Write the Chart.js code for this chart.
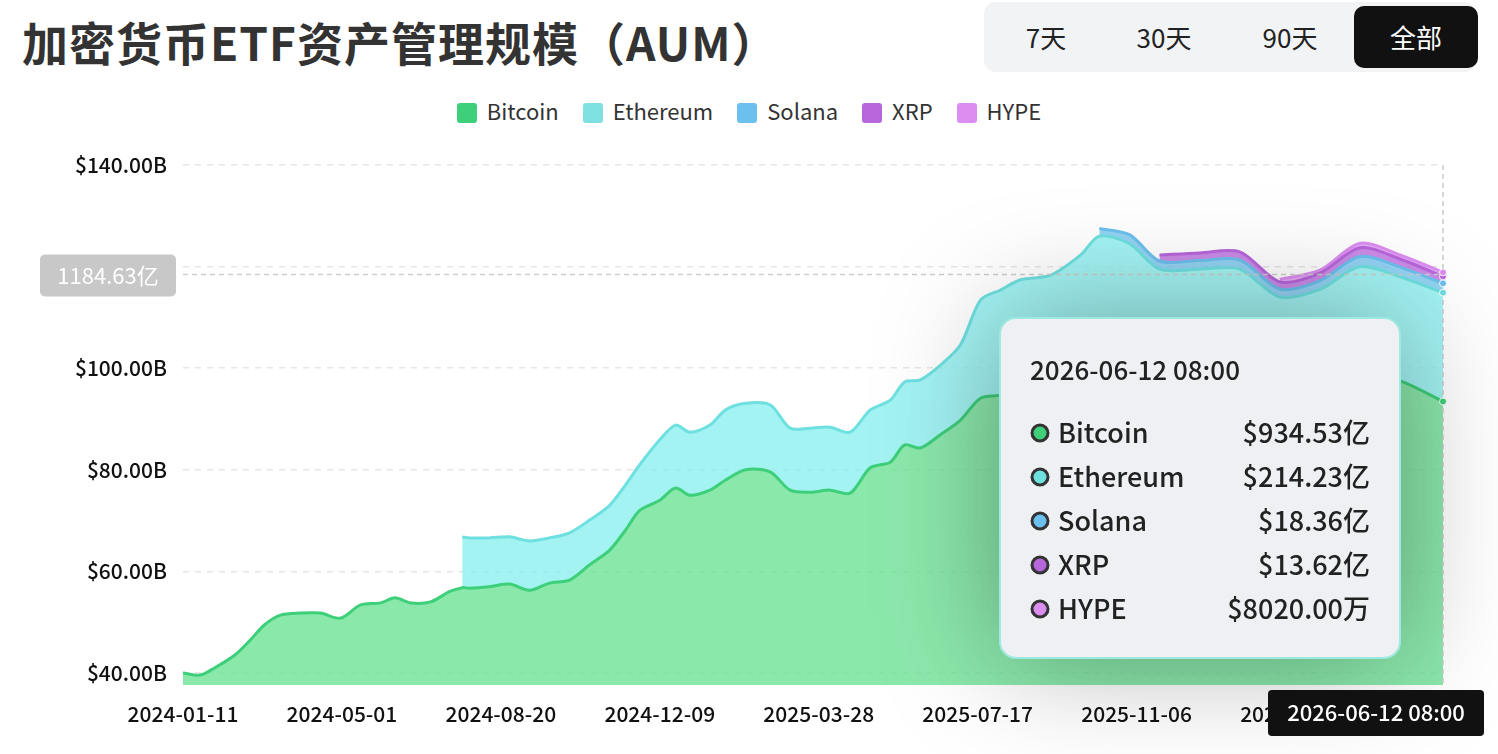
<!DOCTYPE html>
<html><head><meta charset="utf-8">
<script src="https://cdn.jsdelivr.net/npm/chart.js@4/dist/chart.umd.min.js"></script>
<style>
body{margin:0;width:1498px;height:754px;overflow:hidden;background:#fff;font-family:"Noto Sans CJK SC","Noto Sans",sans-serif;}
#title{position:absolute;left:22px;top:8px;font-size:46px;font-weight:700;color:#333;letter-spacing:1px;}
#btns{position:absolute;left:984px;top:2px;width:492px;height:70px;background:#f2f3f5;border-radius:12px;}
#btns div{position:absolute;top:4px;height:62px;line-height:62px;font-size:26px;color:#222;text-align:center;width:124px;}
#legend{position:absolute;top:94px;left:0;width:1498px;text-align:center;font-size:22px;color:#333;}
#legend span{margin:0 12px;}
#legend i{display:inline-block;width:20px;height:20px;vertical-align:-3px;margin-right:10px;border-radius:3px;}
</style></head><body>
<div id="title">加密货币ETF资产管理规模（AUM）</div>
<div id="btns"><div style="left:0">7天</div><div style="left:118px">30天</div><div style="left:244px">90天</div><div style="left:370px;background:#111;color:#fff;border-radius:10px;">全部</div></div>
<div id="legend"></div>
<canvas id="c" width="1498" height="754" style="position:absolute;left:0;top:0"></canvas>
<script>
const days = [0,12,22,36,47,57,68,82,96,110,124,138,148,159,173,186,195,200,214,228,242,256,270,284,298,309,319,333,344,354,368,379,393,410,424,438,452,466,480,494,504,515,529,543,557,571,585,606,627,640,661,682,710,738,766,794,822,850,880];
const btc = [40,39.6,41,43.5,46.5,49.5,51.4,51.8,51.8,50.8,53.4,53.8,54.8,53.8,54,56,56.8,56.7,57,57.5,56.3,57.7,58.3,61.3,64.2,68.1,72,74,76.4,75,76,78,80,79.6,76,75.6,76,75.4,80.4,81.5,84.9,84.3,86.9,89.8,94.1,94.7,96,100,104,105,103,100,100,99,95,96,99,97.5,93.45];
const eth = [null,null,null,null,null,null,null,null,null,null,null,null,null,null,null,null,10,9.9,9.6,9.3,9.7,8.9,9.3,8.8,8.8,8.9,9,11.9,12.4,12.4,12.8,13.8,13.1,13.2,12.2,12.6,12.4,12,11.4,12.2,12.4,13.4,13.7,14.8,19.3,20.7,21.4,18.3,18.3,21,21.5,19.5,19.5,20.5,19,19.5,21,20.5,21.42];
const sol = days.map(()=>null); const solV={640:1.5,661:1.8,682:1.6,710:1.7,738:1.8,766:1.6,794:1.7,822:2.0,850:1.9,880:1.84};
const xrp = days.map(()=>null); const xrpV={682:1.2,710:1.5,738:1.6,766:1.4,794:1.5,822:1.7,850:1.6,880:1.36};
const hype = days.map(()=>null); const hypeV={766:0.5,794:0.6,822:0.9,850:0.8,880:0.8};
days.forEach((d,i)=>{if(d in solV)sol[i]=solV[d];if(d in xrpV)xrp[i]=xrpV[d];if(d in hypeV)hype[i]=hypeV[d];});
const yTicks=[40,60,80,100,120,140];
const xTicks=[0,111,222,333,444,555,666,777];
const xLabels=['2024-01-11','2024-05-01','2024-08-20','2024-12-09','2025-03-28','2025-07-17','2025-11-06','2026-02-25'];
const names=['Bitcoin','Ethereum','Solana','XRP','HYPE'];
const lineC=['#3ecf7a','#6fe0e0','#6cc0ee','#b866dc','#dc8ef0'];
const fillC=['rgba(110,226,150,0.8)','rgba(140,240,240,0.8)','rgba(120,200,240,0.8)','rgba(190,110,225,0.8)','rgba(225,150,245,0.8)'];
const tipVals=['$934.53亿','$214.23亿','$18.36亿','$13.62亿','$8020.00万'];
const hoverLabel='1184.63亿';
const hoverText='2026-06-12 08:00';
document.getElementById('legend').innerHTML=names.map((n,i)=>`<span><i style="background:${['#3ecf7a','#7ee0e0','#6cc0ee','#b866dc','#dc8ef0'][i]}"></i>${n}</span>`).join('');
const series=[btc,eth,sol,xrp,hype];
const datasets=series.map((s,i)=>({label:names[i],data:days.map((d,j)=>({x:d,y:s[j]})),borderColor:lineC[i],backgroundColor:fillC[i],fill:i===0?'origin':'-1',borderWidth:3,pointRadius:0,tension:0.3,spanGaps:false}));
const overlay={id:'ov',afterDatasetsDraw(ch){
 const c=ch.ctx,xs=ch.scales.x,ys=ch.scales.y,a=ch.chartArea;
 const lx=xs.getPixelForValue(880);
 const hy=ys.getPixelForValue(118.46);
 c.save();c.setLineDash([5,4]);c.strokeStyle='#ccc';c.lineWidth=1.5;
 c.beginPath();c.moveTo(a.left,hy);c.lineTo(lx,hy);c.moveTo(lx,a.top);c.lineTo(lx,a.bottom);c.stroke();c.setLineDash([]);
 c.fillStyle='#c8c8c8';c.beginPath();c.roundRect(40,hy-20,136,42,5);c.fill();
 c.fillStyle='#fff';c.font='22px "Noto Sans CJK SC"';c.textAlign='center';c.textBaseline='middle';c.fillText(hoverLabel,108,hy+1);
 let acc=0;series.forEach((s,i)=>{acc+=s[s.length-1];c.beginPath();c.arc(lx,ys.getPixelForValue(acc),3.5,0,7);c.fillStyle=lineC[i];c.fill();c.strokeStyle='#fff';c.lineWidth=1;c.stroke();});
 c.shadowColor='rgba(0,0,0,0.35)';c.shadowBlur=120;c.fillStyle='#eef0f3';c.beginPath();c.roundRect(1000,318,400,340,16);c.fill();
 c.shadowBlur=0;c.strokeStyle='#9ee8e0';c.lineWidth=2;c.stroke();
 c.fillStyle='#222';c.textAlign='left';c.font='500 26px "Noto Sans CJK SC"';c.fillText(hoverText,1030,370);
 names.forEach((n,i)=>{const y=433+i*44;c.beginPath();c.arc(1040,y,8,0,7);c.fillStyle=lineC[i];c.fill();c.strokeStyle='#333';c.lineWidth=3;c.stroke();
  c.fillStyle='#222';c.textAlign='left';c.font='500 27px "Noto Sans CJK SC"';c.fillText(n,1058,y);c.textAlign='right';c.fillText(tipVals[i],1370,y);});
 c.fillStyle='#111';c.beginPath();c.roundRect(1268,690,216,46,4);c.fill();c.fillStyle='#fff';c.textAlign='center';c.font='500 22px "Noto Sans CJK SC"';c.fillText(hoverText,1376,713);
 c.restore();}};
new Chart(document.getElementById('c'),{type:'line',data:{datasets},plugins:[overlay],
options:{responsive:false,animation:false,layout:{padding:{top:165,right:55,left:0,bottom:0}},
plugins:{legend:{display:false},tooltip:{enabled:false}},
scales:{x:{type:'linear',min:0,max:880,grid:{display:false},border:{display:false},
 afterBuildTicks:s=>{s.ticks=xTicks.map(v=>({value:v}));},afterFit:s=>{s.height=69;},
 ticks:{callback:(v)=>xLabels[xTicks.indexOf(v)],color:'#111',font:{size:21,weight:'500',family:'Noto Sans CJK SC'},maxRotation:0,padding:8}},
 y:{stacked:true,min:37.64,max:140,afterBuildTicks:s=>{s.ticks=yTicks.map(v=>({value:v}));},afterFit:s=>{s.width=183;},
 border:{display:false,dash:[6,6]},grid:{color:'#e6e6e6',lineWidth:1.5,drawTicks:false},
 ticks:{callback:v=>'$'+v.toFixed(2)+'B',color:'#111',font:{size:21,weight:'500',family:'Noto Sans CJK SC'},padding:16}}}}});
</script></body></html>
